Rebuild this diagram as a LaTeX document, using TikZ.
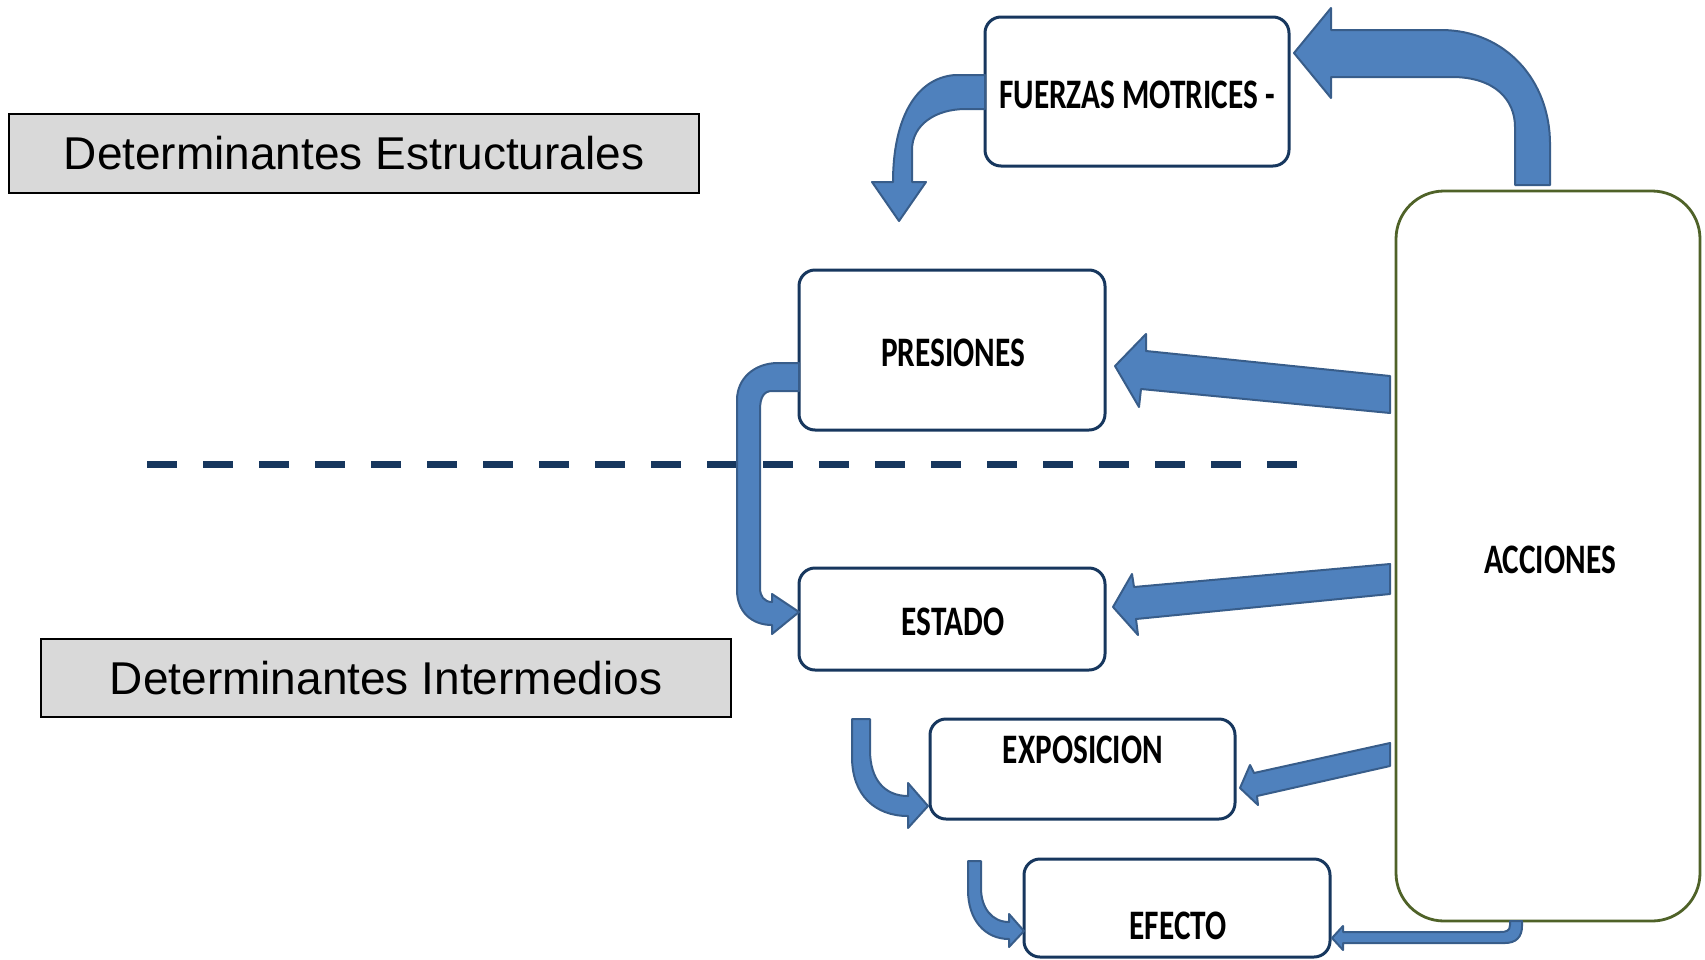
\documentclass[tikz,border=0pt]{standalone}
\usepackage{fontspec}
\setmainfont{Liberation Sans}
\newfontfamily\calfont{Carlito}
\usetikzlibrary{calc}
\definecolor{arrowfill}{RGB}{79,129,189}
\definecolor{arrowline}{RGB}{56,93,138}
\definecolor{boxline}{RGB}{23,55,94}
\definecolor{accline}{RGB}{79,98,40}
\definecolor{labelgray}{RGB}{217,217,217}
\newcommand\boxlabel[1]{\scalebox{0.745}[1]{#1}}
\begin{document}
\begin{tikzpicture}[x=1pt,y=-1pt,
 stepbox/.style={draw=boxline, line width=3pt, rounded corners=16pt, fill=white, inner sep=0pt, outer sep=0pt},
 accbox/.style={draw=accline, line width=2.8pt, rounded corners=48pt, fill=white, inner sep=0pt, outer sep=0pt},
 graybox/.style={draw=black, line width=1.3pt, fill=labelgray, inner sep=0pt, outer sep=0pt, font=\fontsize{46}{50}\selectfont},
 blockarrow/.style={fill=arrowfill, draw=arrowline, line width=2pt, line join=round},
 boldtxt/.style={font=\calfont\bfseries\fontsize{42}{46}\selectfont, inner sep=0pt},
 dashline/.style={draw=boxline, line width=7pt, dash pattern=on 30pt off 26pt}
]
\useasboundingbox (0,0) rectangle (1705,959);
% gray labels
\node[graybox, minimum width=690pt, minimum height=79pt] (ds) at (354,153.5) {Determinantes Estructurales};
\node[graybox, minimum width=690pt, minimum height=78pt] (di) at (386,678) {Determinantes Intermedios};
% dashed separator
\coordinate (dl1) at (147,464);
\coordinate (dl2) at (1299,464);
\draw[dashline] (dl1) -- (dl2);
% boxes
\node[stepbox, minimum width=304pt, minimum height=149pt] (fm) at (1137,91.5) {};
\node[boldtxt] (fmtxt) at (1137,95) {\boxlabel{FUERZAS MOTRICES -}};
\node[stepbox, minimum width=306pt, minimum height=160pt] (pres) at (952,350) {};
\node[boldtxt] (prestxt) at (953,353) {\boxlabel{PRESIONES}};
\node[stepbox, minimum width=306pt, minimum height=102pt] (est) at (952,619) {};
\node[boldtxt] (esttxt) at (953,622) {\boxlabel{ESTADO}};
\node[stepbox, minimum width=305pt, minimum height=100pt] (exp) at (1082.5,769) {};
\node[boldtxt] (exptxt) at (1083,750) {\boxlabel{EXPOSICION}};
\node[stepbox, minimum width=306pt, minimum height=98pt] (efe) at (1177,908) {};
\node[boldtxt] (efetxt) at (1178,926) {\boxlabel{EFECTO}};
\node[accbox, minimum width=304pt, minimum height=730pt] (acc) at (1548,556) {};
\node[boldtxt] (acctxt) at (1550,560) {\boxlabel{ACCIONES}};
% arrows
% acc -> fm
\draw[blockarrow] (1550,185) -- (1550,144) .. controls (1550,80) and (1505,30) .. (1441,30) -- (1331,30) -- (1331,8) -- (1294,53) -- (1331,98) -- (1331,77) -- (1452,77) .. controls (1495,77) and (1515,100) .. (1515,127) -- (1515,185) -- cycle;
% fm -> pres
\draw[blockarrow] (985,75) -- (955,75) .. controls (915,78) and (893,120) .. (893,182) -- (872,182) -- (899,221) -- (926,182) -- (912,182) -- (912,150) .. controls (912,125) and (935,109) .. (966,109) -- (985,109) -- cycle;
% acc -> pres
\draw[blockarrow] (1390,376) -- (1146,351) -- (1146,334) -- (1115,366) -- (1139,407) -- (1141,389) -- (1390,413) -- cycle;
% acc -> est
\draw[blockarrow] (1390,564) -- (1134,587) -- (1132,574) -- (1113,607) -- (1138,635) -- (1136,619) -- (1390,594) -- cycle;
% acc -> exp
\draw[blockarrow] (1390,743) -- (1254,773) -- (1250,765) -- (1240,788) -- (1258,805) -- (1257,796) -- (1390,766) -- cycle;
% acc -> efe
\draw[blockarrow] (1510,921) -- (1510,925) .. controls (1510,931) and (1506,932) .. (1500,932) -- (1343,932) -- (1343,926) -- (1332,938) -- (1343,950) -- (1343,943) -- (1505,943) .. controls (1516,943) and (1522,937) .. (1522,926) -- (1522,921) -- cycle;
% pres -> est
\draw[blockarrow] (799,363) -- (778,363) .. controls (755,363) and (737,378) .. (737,400) -- (737,590) .. controls (737,612) and (752,625) .. (772,625) -- (772,634) -- (799,612) -- (772,594) -- (772,602) .. controls (764,602) and (760,596) .. (760,588) -- (760,410) .. controls (760,397) and (764,391) .. (772,391) -- (799,391) -- cycle;
% -> exp
\draw[blockarrow] (852,719) -- (852,757) .. controls (852,795) and (875,816) .. (908,816) -- (908,828) -- (928,806) -- (908,783) -- (908,796) .. controls (885,796) and (870,780) .. (870,750) -- (870,719) -- cycle;
% -> efe
\draw[blockarrow] (968,861) -- (968,890) .. controls (968,920) and (985,939) .. (1009,939) -- (1009,947) -- (1024,931) -- (1009,914) -- (1009,922) .. controls (992,922) and (981,908) .. (981,888) -- (981,861) -- cycle;
\end{tikzpicture}
\end{document}
